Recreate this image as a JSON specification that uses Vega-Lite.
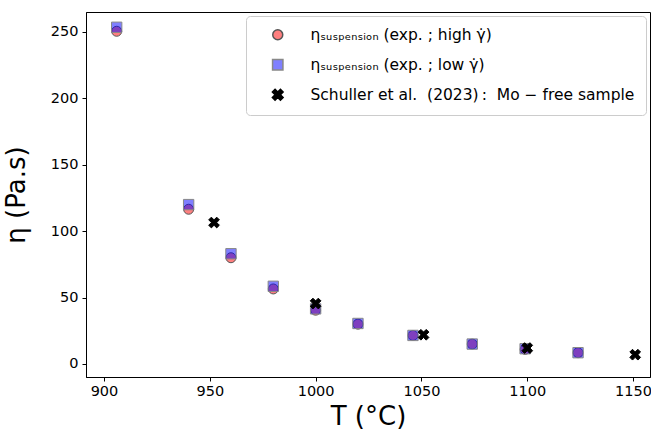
{
  "$schema": "https://vega.github.io/schema/vega-lite/v6.json",
  "width": 564,
  "height": 365,
  "autosize": "none",
  "padding": {"left": 86, "top": 12, "right": 1, "bottom": 60},
  "background": "white",
  "config": {
    "font": "DejaVu Sans",
    "view": {"stroke": "black", "strokeWidth": 1},
    "axis": {
      "domainColor": "black",
      "tickColor": "black",
      "tickSize": 4,
      "labelColor": "black",
      "titleColor": "black",
      "labelFont": "DejaVu Sans",
      "titleFont": "DejaVu Sans",
      "labelFontSize": 14.5,
      "titleFontSize": 26,
      "titleFontWeight": "normal",
      "grid": false
    }
  },
  "data": {
    "values": [
      {"series": "ηₛᵤₛₚₑₙₛᵢₒₙ (exp. ; high γ̇)", "T": 906, "eta": 250.5},
      {"series": "ηₛᵤₛₚₑₙₛᵢₒₙ (exp. ; high γ̇)", "T": 940, "eta": 116.5},
      {"series": "ηₛᵤₛₚₑₙₛᵢₒₙ (exp. ; high γ̇)", "T": 960, "eta": 80},
      {"series": "ηₛᵤₛₚₑₙₛᵢₒₙ (exp. ; high γ̇)", "T": 980, "eta": 56.5},
      {"series": "ηₛᵤₛₚₑₙₛᵢₒₙ (exp. ; high γ̇)", "T": 1000, "eta": 40.5},
      {"series": "ηₛᵤₛₚₑₙₛᵢₒₙ (exp. ; high γ̇)", "T": 1020, "eta": 30},
      {"series": "ηₛᵤₛₚₑₙₛᵢₒₙ (exp. ; high γ̇)", "T": 1046, "eta": 21.5},
      {"series": "ηₛᵤₛₚₑₙₛᵢₒₙ (exp. ; high γ̇)", "T": 1074, "eta": 15},
      {"series": "ηₛᵤₛₚₑₙₛᵢₒₙ (exp. ; high γ̇)", "T": 1099, "eta": 11},
      {"series": "ηₛᵤₛₚₑₙₛᵢₒₙ (exp. ; high γ̇)", "T": 1124, "eta": 8.5},
      {"series": "ηₛᵤₛₚₑₙₛᵢₒₙ (exp. ; low γ̇)", "T": 906, "eta": 253.5},
      {"series": "ηₛᵤₛₚₑₙₛᵢₒₙ (exp. ; low γ̇)", "T": 940, "eta": 120},
      {"series": "ηₛᵤₛₚₑₙₛᵢₒₙ (exp. ; low γ̇)", "T": 960, "eta": 83},
      {"series": "ηₛᵤₛₚₑₙₛᵢₒₙ (exp. ; low γ̇)", "T": 980, "eta": 58.5},
      {"series": "ηₛᵤₛₚₑₙₛᵢₒₙ (exp. ; low γ̇)", "T": 1000, "eta": 41.5},
      {"series": "ηₛᵤₛₚₑₙₛᵢₒₙ (exp. ; low γ̇)", "T": 1020, "eta": 30.5},
      {"series": "ηₛᵤₛₚₑₙₛᵢₒₙ (exp. ; low γ̇)", "T": 1046, "eta": 21.5},
      {"series": "ηₛᵤₛₚₑₙₛᵢₒₙ (exp. ; low γ̇)", "T": 1074, "eta": 15},
      {"series": "ηₛᵤₛₚₑₙₛᵢₒₙ (exp. ; low γ̇)", "T": 1099, "eta": 11.5},
      {"series": "ηₛᵤₛₚₑₙₛᵢₒₙ (exp. ; low γ̇)", "T": 1124, "eta": 8.5},
      {"series": "Schuller et al.\u00a0 (2023)\u2009:\u00a0 Mo − free sample", "T": 952, "eta": 106.5},
      {"series": "Schuller et al.\u00a0 (2023)\u2009:\u00a0 Mo − free sample", "T": 1000, "eta": 45.5},
      {"series": "Schuller et al.\u00a0 (2023)\u2009:\u00a0 Mo − free sample", "T": 1051, "eta": 22},
      {"series": "Schuller et al.\u00a0 (2023)\u2009:\u00a0 Mo − free sample", "T": 1100, "eta": 12},
      {"series": "Schuller et al.\u00a0 (2023)\u2009:\u00a0 Mo − free sample", "T": 1151, "eta": 7}
    ]
  },
  "mark": {"type": "point", "filled": false, "strokeWidth": 1, "opacity": 1},
  "encoding": {
    "x": {
      "field": "T", "type": "quantitative",
      "scale": {"domain": [891.5, 1158], "nice": false, "zero": false},
      "axis": {"values": [900, 950, 1000, 1050, 1100, 1150], "format": "d", "title": "T (°C)", "titlePadding": 6, "labelPadding": 3}
    },
    "y": {
      "field": "eta", "type": "quantitative",
      "scale": {"domain": [-9.8, 265], "nice": false, "zero": false},
      "axis": {"values": [0, 50, 100, 150, 200, 250], "format": "d", "title": "η (Pa.s)", "titlePadding": 21, "labelPadding": 4}
    },
    "shape": {
      "field": "series", "type": "nominal",
      "scale": {
        "domain": ["ηₛᵤₛₚₑₙₛᵢₒₙ (exp. ; high γ̇)", "ηₛᵤₛₚₑₙₛᵢₒₙ (exp. ; low γ̇)", "Schuller et al.\u00a0 (2023)\u2009:\u00a0 Mo − free sample"],
        "range": ["circle", "square", "M-1,-0.5L-0.5,-1L0,-0.5L0.5,-1L1,-0.5L0.5,0L1,0.5L0.5,1L0,0.5L-0.5,1L-1,0.5L-0.5,0Z"]
      },
      "legend": {
        "title": null,
        "orient": "top-right",
        "offset": 4,
        "fillColor": "white",
        "strokeColor": "#cccccc",
        "cornerRadius": 4,
        "padding": 11,
        "labelFontSize": 15.5,
        "labelFont": "DejaVu Sans",
        "labelColor": "black",
        "labelLimit": 0,
        "labelOffset": 25,
        "rowPadding": 12,
        "symbolOffset": 13
      }
    },
    "fill": {
      "field": "series", "type": "nominal",
      "scale": {
        "domain": ["ηₛᵤₛₚₑₙₛᵢₒₙ (exp. ; high γ̇)", "ηₛᵤₛₚₑₙₛᵢₒₙ (exp. ; low γ̇)", "Schuller et al.\u00a0 (2023)\u2009:\u00a0 Mo − free sample"],
        "range": ["rgba(255,0,0,0.5)", "rgba(0,0,255,0.5)", "black"]
      }
    },
    "stroke": {
      "field": "series", "type": "nominal",
      "scale": {
        "domain": ["ηₛᵤₛₚₑₙₛᵢₒₙ (exp. ; high γ̇)", "ηₛᵤₛₚₑₙₛᵢₒₙ (exp. ; low γ̇)", "Schuller et al.\u00a0 (2023)\u2009:\u00a0 Mo − free sample"],
        "range": ["#555555", "#888888", "black"]
      }
    },
    "size": {
      "field": "series", "type": "nominal",
      "scale": {
        "domain": ["ηₛᵤₛₚₑₙₛᵢₒₙ (exp. ; high γ̇)", "ηₛᵤₛₚₑₙₛᵢₒₙ (exp. ; low γ̇)", "Schuller et al.\u00a0 (2023)\u2009:\u00a0 Mo − free sample"],
        "range": [100, 115, 130]
      }
    }
  }
}
